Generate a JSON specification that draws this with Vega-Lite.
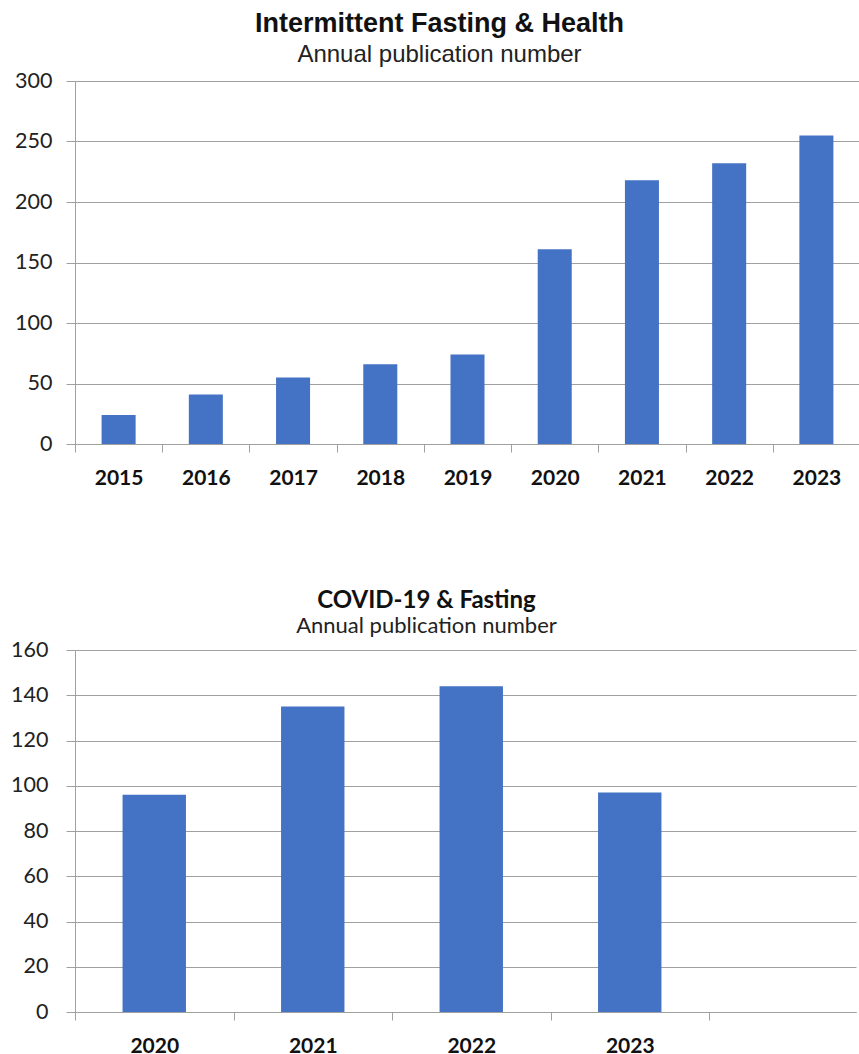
{
  "$schema": "https://vega.github.io/schema/vega-lite/v6.json",
  "background": "white",
  "padding": {"left": 10, "top": 10, "right": 0, "bottom": 0},
  "datasets": {
    "ifh": [
      {"year": "2015", "count": 24},
      {"year": "2016", "count": 41},
      {"year": "2017", "count": 55},
      {"year": "2018", "count": 66},
      {"year": "2019", "count": 74},
      {"year": "2020", "count": 161},
      {"year": "2021", "count": 218},
      {"year": "2022", "count": 232},
      {"year": "2023", "count": 255}
    ],
    "covid": [
      {"year": "2020", "count": 96},
      {"year": "2021", "count": 135},
      {"year": "2022", "count": 144},
      {"year": "2023", "count": 97}
    ]
  },
  "config": {
    "view": {"stroke": null},
    "axisX": {
      "title": null, "tickBand": "extent", "labelAngle": 0, "labelFont": "Lato", "labelFontWeight": "bold",
      "labelFontSize": 21, "labelColor": "#111", "labelPadding": 15, "tickSize": 8, "tickColor": "#a0a0a0",
      "domainColor": "#a0a0a0", "grid": false
    },
    "axisY": {
      "title": null, "labelFont": "Lato", "labelFontSize": 21.5, "labelColor": "#222", "labelPadding": 14,
      "tickSize": 9, "tickColor": "#a0a0a0", "domainColor": "#a0a0a0", "gridColor": "#a0a0a0", "grid": true
    }
  },
  "columns": 1,
  "align": "none",
  "spacing": 101,
  "concat": [
    {
      "width": 785,
      "height": 363,
      "data": {"name": "ifh"},
      "title": {
        "text": "Intermittent Fasting & Health", "subtitle": "Annual publication number",
        "font": "Liberation Sans", "fontSize": 27, "fontWeight": "bold", "color": "#111",
        "subtitleFont": "Liberation Sans", "subtitleFontSize": 24, "subtitleColor": "#222",
        "anchor": "middle", "frame": "group", "dx": -28, "offset": 2, "subtitlePadding": 5
      },
      "mark": {"type": "bar", "color": "#4472C4", "width": {"band": 0.39}},
      "encoding": {
        "x": {"field": "year", "type": "ordinal", "scale": {"paddingInner": 0, "paddingOuter": 0}},
        "y": {
          "field": "count", "type": "quantitative",
          "scale": {"domain": [0, 300], "nice": false},
          "axis": {"values": [0, 50, 100, 150, 200, 250, 300]}
        }
      }
    },
    {
      "width": 781,
      "height": 362,
      "data": {"name": "covid"},
      "title": {
        "text": "COVID-19 & Fasting", "subtitle": "Annual publication number",
        "font": "Lato", "fontSize": 24, "fontWeight": "bold", "color": "#111",
        "subtitleFont": "Lato", "subtitleFontSize": 22, "subtitleColor": "#222",
        "anchor": "middle", "frame": "group", "dx": -39, "offset": 2, "subtitlePadding": 3
      },
      "mark": {"type": "bar", "color": "#4472C4", "width": {"band": 0.4}},
      "encoding": {
        "x": {
          "field": "year", "type": "ordinal",
          "scale": {"domain": ["2020", "2021", "2022", "2023"], "paddingInner": 0, "paddingOuter": 0.4637, "align": 0}
        },
        "y": {
          "field": "count", "type": "quantitative",
          "scale": {"domain": [0, 160], "nice": false},
          "axis": {"values": [0, 20, 40, 60, 80, 100, 120, 140, 160], "labelPadding": 18}
        }
      }
    }
  ]
}
